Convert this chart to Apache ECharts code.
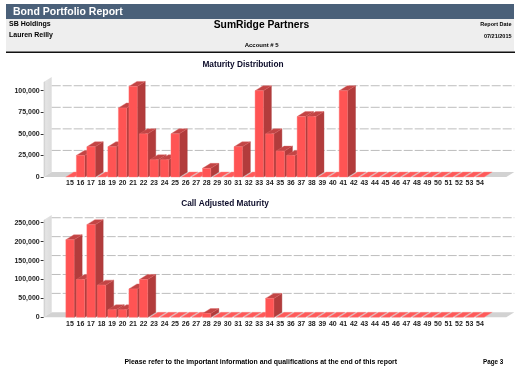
<!DOCTYPE html>
<html>
<head>
<meta charset="utf-8">
<script src="https://cdn.jsdelivr.net/npm/echarts@6/dist/echarts.min.js"></script>
<style>
html,body{margin:0;padding:0;background:#fff;}
#chart{width:530px;height:370px;}
</style>
</head>
<body>
<div id="chart"></div>
<script>
// ---- data ----
const categories = ['15','16','17','18','19','20','21','22','23','24','25','26','27','28','29','30','31','32','33','34',
  '35','36','37','38','39','40','41','42','43','44','45','46','47','48','49','50','51','52','53','54'];
const maturityValues = [0, 25000, 35000, 0, 35000, 80000, 105000, 50000, 20000, 20000, 50000, 0, 0, 10000, 0, 0, 35000, 0, 100000, 50000,
  30000, 25000, 70000, 70000, 0, 0, 100000, 0, 0, 0, 0, 0, 0, 0, 0, 0, 0, 0, 0, 0];
const callAdjustedValues = [205000, 100000, 245000, 85000, 20000, 20000, 75000, 100000, 0, 0, 0, 0, 0, 10000, 0, 0, 0, 0, 0, 50000,
  0, 0, 0, 0, 0, 0, 0, 0, 0, 0, 0, 0, 0, 0, 0, 0, 0, 0, 0, 0];
const maturityTicks = [0, 25000, 50000, 75000, 100000];
const callAdjustedTicks = [0, 50000, 100000, 150000, 200000, 250000];

// ---- styling constants ----
const DX = 8, DY = 5;
const FONT = '"Liberation Sans", Arial, sans-serif';
const PAD = 2;
const axisData = ['\u2002', '\u2003'].concat(categories, ['\u2004', '\u2005']);

function fmt(v) { return v.toLocaleString('en-US'); }

function renderBar(params, api) {
  const idx = api.value(0), v = api.value(1);
  const base = api.coord([idx, 0]);
  const top = api.coord([idx, v]);
  const band = api.size([1, 0])[0];
  const w = band * 0.79;
  const x0 = base[0] - w / 2, x1 = base[0] + w / 2;
  const yb = base[1], yt = top[1];
  if (v <= 0) {
    return { type: 'polygon', shape: { points: [[x0, yb], [x1, yb], [x1 + DX, yb - DY], [x0 + DX, yb - DY]] },
      style: { fill: '#ff5a5a', stroke: '#ff8a8a', lineWidth: 0.4 } };
  }
  return { type: 'group', children: [
    { type: 'polygon', shape: { points: [[x1, yb], [x1 + DX, yb - DY], [x1 + DX, yt - DY], [x1, yt]] },
      style: { fill: '#b23c3c', stroke: '#a33535', lineWidth: 0.4 } },
    { type: 'polygon', shape: { points: [[x0, yt], [x1, yt], [x1 + DX, yt - DY], [x0 + DX, yt - DY]] },
      style: { fill: '#c24545', stroke: '#e06a6a', lineWidth: 0.4 } },
    { type: 'rect', shape: { x: x0, y: yt, width: x1 - x0, height: yb - yt },
      style: { fill: '#ff5454', stroke: '#ff7a7a', lineWidth: 0.4 } }
  ]};
}

function renderDecor(params, api) {
  const cs = params.coordSys;
  const L = cs.x, R = cs.x + cs.width, T = cs.y, B = cs.y + cs.height;
  const v = api.value(0);
  const y = api.coord([0, v])[1];
  const children = [];
  if (params.dataIndex === 0) {
    children.push({ type: 'polygon', shape: { points: [[L, B], [L + DX, B - DY], [L + DX, T - DY], [L, T]] },
      style: { fill: { type: 'linear', x: 0, y: 0, x2: 1, y2: 0, colorStops: [{ offset: 0, color: '#c9c9c9' }, { offset: 0.25, color: '#e4e4e4' }, { offset: 1, color: '#dcdcdc' }] } } });
    children.push({ type: 'polygon', shape: { points: [[L, B], [R, B], [R + DX, B - DY], [L + DX, B - DY]] },
      style: { fill: '#d2d2d2' } });
  } else {
    children.push({ type: 'line', shape: { x1: L + DX, y1: y - DY, x2: R + DX, y2: y - DY },
      style: { stroke: '#bdbdbd', lineWidth: 1, lineDash: [9, 2] } });
  }
  return { type: 'group', children: children };
}

function yAxisFor(gridIndex, values, ticks) {
  return {
    type: 'value', gridIndex: gridIndex, min: 0, max: Math.max.apply(null, values) * 1.05,
    splitLine: { show: false }, axisLine: { show: false },
    axisTick: { show: true, length: 3, customValues: ticks, lineStyle: { color: '#333', width: 1 } },
    axisLabel: { customValues: ticks, formatter: fmt, margin: 4, color: '#222', fontSize: 7, fontWeight: 'bold', fontFamily: FONT }
  };
}
function xAxisFor(gridIndex) {
  return {
    type: 'category', gridIndex: gridIndex, data: axisData,
    axisLine: { show: false }, axisTick: { show: false }, splitLine: { show: false },
    axisLabel: { interval: 0, margin: 3, color: '#222', fontSize: 7, fontWeight: 'bold', fontFamily: FONT }
  };
}
function barData(values) { return values.map((v, i) => [i + PAD, v]); }

const chart = echarts.init(document.getElementById('chart'), null, { renderer: 'canvas' });
chart.setOption({
  animation: false,
  backgroundColor: '#ffffff',
  grid: [
    { left: 43.7, right: 23.7, top: 81.9, bottom: 193 },
    { left: 43.7, right: 23.7, top: 220, bottom: 52.7 }
  ],
  xAxis: [xAxisFor(0), xAxisFor(1)],
  yAxis: [yAxisFor(0, maturityValues, maturityTicks), yAxisFor(1, callAdjustedValues, callAdjustedTicks)],
  series: [
    { type: 'custom', xAxisIndex: 0, yAxisIndex: 0, renderItem: renderDecor, data: maturityTicks.map(t => [t]), encode: { y: 0 }, silent: true, z: 1 },
    { type: 'custom', xAxisIndex: 0, yAxisIndex: 0, renderItem: renderBar, data: barData(maturityValues), encode: { x: 0, y: 1 }, z: 2 },
    { type: 'custom', xAxisIndex: 1, yAxisIndex: 1, renderItem: renderDecor, data: callAdjustedTicks.map(t => [t]), encode: { y: 0 }, silent: true, z: 1 },
    { type: 'custom', xAxisIndex: 1, yAxisIndex: 1, renderItem: renderBar, data: barData(callAdjustedValues), encode: { x: 0, y: 1 }, z: 2 }
  ],
  graphic: [
    { type: 'rect', shape: { x: 6, y: 19, width: 508, height: 33 }, style: { fill: '#eeeeee' }, z: 0 },
    { type: 'rect', shape: { x: 6, y: 4, width: 508, height: 15 }, style: { fill: '#4a6079' }, z: 0 },
    { type: 'rect', shape: { x: 6, y: 51.5, width: 509, height: 1.5 }, style: { fill: '#111111' }, z: 0 },
    { type: 'text', x: 13, y: 12, style: { text: 'Bond Portfolio Report', fill: '#ffffff', font: 'bold 10.5px ' + FONT, textVerticalAlign: 'middle' } },
    { type: 'text', x: 9, y: 24, style: { text: 'SB Holdings', fill: '#000', font: 'bold 7px ' + FONT, textVerticalAlign: 'middle' } },
    { type: 'text', x: 9, y: 35, style: { text: 'Lauren Reilly', fill: '#000', font: 'bold 7px ' + FONT, textVerticalAlign: 'middle' } },
    { type: 'text', x: 261.5, y: 25.5, style: { text: 'SumRidge Partners', fill: '#000', font: 'bold 10.3px ' + FONT, textAlign: 'center', textVerticalAlign: 'middle' } },
    { type: 'text', x: 261.7, y: 45, style: { text: 'Account # 5', fill: '#000', font: 'bold 6px ' + FONT, textAlign: 'center', textVerticalAlign: 'middle' } },
    { type: 'text', x: 511.5, y: 24, style: { text: 'Report Date', fill: '#000', font: 'bold 5.5px ' + FONT, textAlign: 'right', textVerticalAlign: 'middle' } },
    { type: 'text', x: 511.5, y: 36, style: { text: '07/21/2015', fill: '#000', font: 'bold 5.5px ' + FONT, textAlign: 'right', textVerticalAlign: 'middle' } },
    { type: 'text', x: 243, y: 64.3, style: { text: 'Maturity Distribution', fill: '#0c0c2a', font: 'bold 8.3px ' + FONT, textAlign: 'center', textVerticalAlign: 'middle' } },
    { type: 'text', x: 225, y: 204, style: { text: 'Call Adjusted Maturity', fill: '#0c0c2a', font: 'bold 8.3px ' + FONT, textAlign: 'center', textVerticalAlign: 'middle' } },
    { type: 'text', x: 260.8, y: 362.3, style: { text: 'Please refer to the important information and qualifications at the end of this report', fill: '#000', font: 'bold 6.9px ' + FONT, textAlign: 'center', textVerticalAlign: 'middle' } },
    { type: 'text', x: 483, y: 362.3, style: { text: 'Page 3', fill: '#000', font: 'bold 6.3px ' + FONT, textVerticalAlign: 'middle' } }
  ]
});
</script>
</body>
</html>
